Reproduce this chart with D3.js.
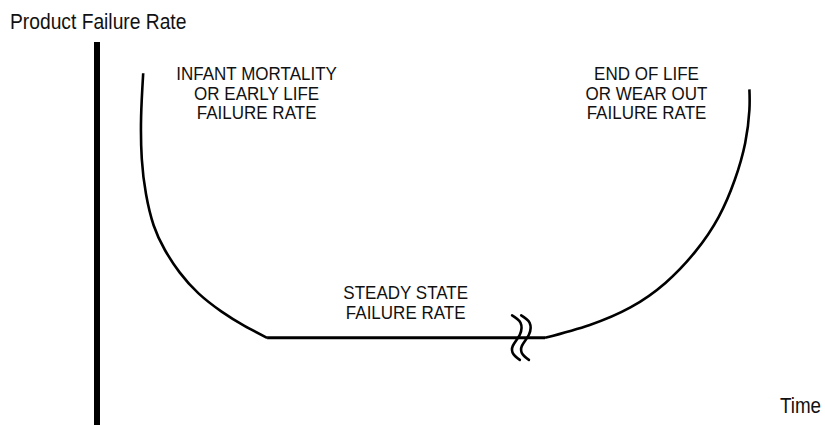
<!DOCTYPE html>
<html>
<head>
<meta charset="utf-8">
<script src="https://cdn.jsdelivr.net/npm/d3@7"></script>
<style>
  body { margin: 0; background: #fff; }
  text { font-family: "Liberation Sans", Arial, sans-serif; fill: #111; }
</style>
</head>
<body>
<div id="chart"></div>
<script>
// bathtub curve (time, failure rate)
const earlyLife = [
  [6.6, 100.5], [6.3, 88], [6.4, 76], [7.0, 66], [8.1, 57], [9.7, 50],
  [11.8, 43.6], [14.5, 37.6], [17.8, 32.4], [21.0, 28.4], [24.3, 24.9]
];
const steadyState = [[24.3, 24.9], [64, 24.9]];
const wearOut = [
  [64, 24.9], [70.4, 28.6], [76.2, 33.6], [81.2, 40.6], [85.5, 49.6], [88.8, 59.4],
  [91.1, 70], [92.6, 80.6], [93.2, 90], [93.2, 95.9]
];
// axis break squiggles
const break1 = [[59.3, 31.3], [60.5, 29.2], [60.4, 25.8], [59.4, 22.6], [59.5, 20.2], [60.4, 18.6]];
const break2 = [[60.6, 31.3], [61.8, 29.2], [61.7, 25.8], [60.7, 22.6], [60.8, 20.2], [61.7, 18.6]];

const labels = [
  { lines: ["INFANT MORTALITY", "OR EARLY LIFE", "FAILURE RATE"], t: 22.8, r: 98.6 },
  { lines: ["END OF LIFE", "OR WEAR OUT", "FAILURE RATE"], t: 78.5, r: 98.6 },
  { lines: ["STEADY STATE", "FAILURE RATE"], t: 44.1, r: 36 }
];

const width = 825, height = 425;

const svg = d3.select("#chart").append("svg")
  .attr("width", width)
  .attr("height", height);

const x = d3.scaleLinear().domain([0, 104]).range([97, 825]);
const y = d3.scaleLinear().domain([0, 110]).range([425, 40]);

// y axis: thick bar, no ticks
svg.append("line")
  .attr("x1", x(0)).attr("x2", x(0))
  .attr("y1", y(109.4)).attr("y2", y(0))
  .attr("stroke", "#000")
  .attr("stroke-width", 6);

const line = d3.line()
  .x(d => x(d[0]))
  .y(d => y(d[1]))
  .curve(d3.curveNatural);

svg.append("path").datum(earlyLife)
  .attr("d", line).attr("fill", "none")
  .attr("stroke", "#000").attr("stroke-width", 2.6);

svg.append("path").datum(steadyState)
  .attr("d", line).attr("fill", "none")
  .attr("stroke", "#000").attr("stroke-width", 3);

svg.append("path").datum(wearOut)
  .attr("d", line).attr("fill", "none")
  .attr("stroke", "#000").attr("stroke-width", 2.6);

[break1, break2].forEach(b => {
  svg.append("path").datum(b)
    .attr("d", line).attr("fill", "none")
    .attr("stroke", "#000").attr("stroke-width", 2.6)
    .attr("stroke-linecap", "round");
});

// labels (font is a narrow sans, so squeeze horizontally)
labels.forEach(l => {
  l.lines.forEach((s, i) => {
    svg.append("text")
      .attr("transform", `translate(${x(l.t)},${y(l.r) + i * 19.6}) scale(0.92,1)`)
      .attr("text-anchor", "middle")
      .style("font-size", "18.5px")
      .text(s);
  });
});

svg.append("text")
  .attr("transform", "translate(10,29) scale(0.875,1)")
  .style("font-size", "22px")
  .text("Product Failure Rate");

svg.append("text")
  .attr("transform", "translate(780,413) scale(0.875,1)")
  .style("font-size", "21.5px")
  .text("Time");
</script>
</body>
</html>
